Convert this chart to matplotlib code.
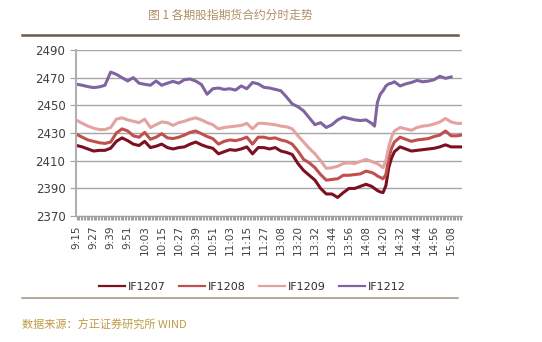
import matplotlib.pyplot as plt
import numpy as np

plt.rcParams['font.family'] = ['Noto Sans CJK SC', 'DejaVu Sans']

# trading minutes: 9:15-11:30 and 13:00-15:15
times = []
for h, m0, n in [(9, 15, 136), (13, 0, 136)]:
    for k in range(n):
        t = h * 60 + m0 + k
        times.append('%d:%02d' % (t // 60, t % 60))

# minute index of each sampled point
idx = list(range(0, 209, 4)) + [210, 212, 214, 216, 218, 220, 222] + list(range(224, 269, 4)) + [271]

if1207 = [2421, 2420, 2418.5, 2417, 2417.5, 2417.5, 2419, 2424, 2426.5, 2424.5, 2422, 2421, 2424, 2419.5, 2420.5, 2422, 2419.5, 2418.5,
          2419.5, 2420, 2422, 2423.5, 2421.5, 2420, 2419, 2415, 2416.5, 2418, 2417.5, 2418.5, 2420, 2415, 2419.5, 2419.5, 2418.5,
          2419.5, 2417, 2416, 2414.5, 2408, 2403, 2399.5, 2396, 2390, 2386, 2386, 2383.5, 2387, 2390, 2390, 2391.5,
          2393, 2391.5,
          2390, 2388.5, 2387.5, 2387, 2392, 2405, 2412,
          2416.5, 2420, 2418.5, 2417, 2417.5, 2418, 2418.5, 2419, 2420, 2421.5, 2420, 2420,
          2420]
if1208 = [2429, 2427, 2425, 2424, 2423, 2422.5, 2423.5, 2430, 2433, 2431.5, 2428, 2427, 2430.5, 2425.5, 2427, 2429.5, 2426.5, 2426,
          2427, 2428.5, 2430.5, 2431.5, 2429.5, 2427.5, 2426, 2422, 2424, 2425, 2424.5, 2425.5, 2427, 2422, 2427, 2427, 2426,
          2426.5, 2425, 2424, 2422, 2417, 2411, 2408.5, 2405, 2400, 2396, 2396.5, 2397, 2399.5, 2399.5, 2400, 2400.5,
          2402.5, 2401.5,
          2400.5, 2399, 2398, 2397, 2400, 2412, 2419,
          2423.5, 2427, 2425.5, 2424, 2425, 2425.5, 2426, 2427.5, 2428.5, 2431.5, 2428, 2428,
          2428.5]
if1209 = [2439.2, 2437, 2435, 2433.5, 2432.5, 2432.5, 2434, 2440, 2441, 2439.5, 2438.5, 2437.5, 2440, 2434, 2436, 2438, 2437.5, 2435.5,
          2437.5, 2438.5, 2440, 2441, 2439.5, 2437.5, 2436, 2433, 2434, 2434.5, 2435, 2435.5, 2437, 2433, 2437, 2437, 2436.5,
          2436, 2435, 2434.5, 2433, 2428, 2423.5, 2419, 2415, 2410, 2404.5, 2405, 2406, 2408, 2408.5, 2408, 2409.5,
          2411, 2409.5,
          2408.5, 2408, 2406.5, 2405, 2410, 2420, 2427,
          2431.5, 2434, 2433, 2432, 2434, 2435, 2435.5, 2436.5, 2438, 2440.5, 2438, 2437,
          2437]
if1212 = [2465.2, 2464.5, 2463.5, 2462.8, 2463.3, 2464.5, 2474, 2472.4, 2470, 2467.6, 2470, 2466, 2465.2, 2464.5, 2467.6, 2464.5, 2466, 2467.3,
          2466, 2468.5, 2469, 2467.5, 2465, 2458, 2462, 2462.5, 2461.5, 2462, 2461, 2464, 2462, 2466.5, 2465.5, 2463, 2462.5,
          2461.5, 2460.5, 2456, 2451, 2449, 2446, 2441, 2436, 2437.5, 2434, 2436, 2439.5, 2441.5, 2440.5, 2439.5, 2439,
          2439.5, 2437,
          2435, 2452, 2458, 2460.5, 2464, 2465.5, 2466,
          2467, 2464, 2465.5, 2466.5, 2468, 2467, 2467.5, 2468.5, 2471, 2469.5, 2470.5, np.nan,
          np.nan]

names = ['IF1207', 'IF1208', 'IF1209', 'IF1212']
colors = ['#7d1020', '#c0504d', '#e3a3a1', '#8064a2']

fig = plt.figure(figsize=(5.42, 3.42), dpi=100)
ax = fig.add_axes([0.140, 0.368, 0.712, 0.486])

for vals, name, c in zip([if1207, if1208, if1209, if1212], names, colors):
    ax.plot(idx, vals, color=c, lw=2.2, label=name, solid_joinstyle='round')

ax.set_xlim(-0.5, len(times) - 0.5)
ax.set_ylim(2370, 2490)
ax.set_yticks(range(2370, 2491, 20))
ax.grid(axis='y', color='#a6a6a6', lw=1)
ax.set_axisbelow(True)

ax.set_xticks(range(0, len(times), 12))
ax.set_xticklabels(times[::12], rotation=90, fontsize=7.5, color='#404040', family='DejaVu Sans')
ax.set_xticks(np.arange(len(times)), minor=True)
ax.tick_params(axis='x', which='both', length=3, color='#a0a0a0', width=0.8)
ax.tick_params(axis='y', length=4, color='#a0a0a0', labelsize=8.5, labelcolor='#404040')
for t in ax.get_yticklabels():
    t.set_family('DejaVu Sans')

for s in ['top', 'right']:
    ax.spines[s].set_visible(False)
ax.spines['left'].set_color('#b0b0b0')
ax.spines['left'].set_linewidth(1.5)
ax.spines['bottom'].set_color('#a0a0a0')

leg = fig.legend(loc='center', bbox_to_anchor=(0.465, 0.161), ncol=4, frameon=False,
                 handlelength=2.4, columnspacing=1.2, handletextpad=0.2,
                 prop={'family': 'DejaVu Sans', 'size': 8})
for ln in leg.get_lines():
    ln.set_linewidth(1.6)
for t in leg.get_texts():
    t.set_color('#303030')

fig.text(0.425, 0.955, '图 1 各期股指期货合约分时走势', ha='center', va='center',
         fontsize=8.5, color='#b09066')
fig.add_artist(plt.Line2D([0.04, 0.845], [0.897, 0.897], color='#6b5a45', lw=1.8, transform=fig.transFigure))
fig.add_artist(plt.Line2D([0.04, 0.845], [0.128, 0.128], color='#a89c88', lw=1.2, transform=fig.transFigure))
fig.text(0.04, 0.05, '数据来源：方正证券研究所 WIND', ha='left', va='center',
         fontsize=8, color='#bf9a45', style='italic')

fig.savefig('out.png', dpi=100)
